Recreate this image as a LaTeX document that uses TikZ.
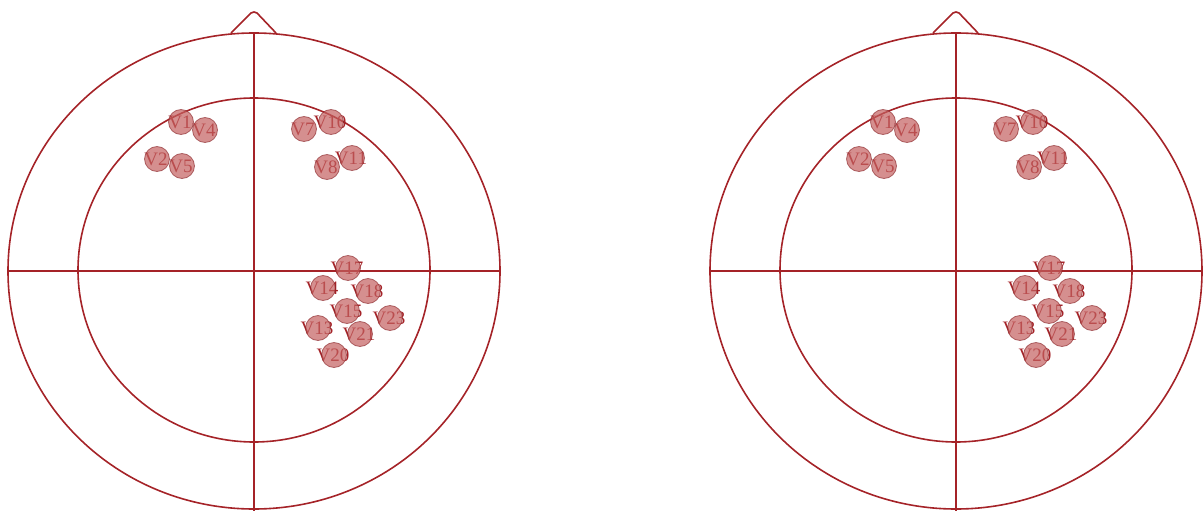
\documentclass[tikz,border=0pt]{standalone}
\usepackage{fontspec}
\setmainfont{Liberation Serif}
\definecolor{headred}{RGB}{165,35,40}
\definecolor{elecfill}{RGB}{195,95,95}
\tikzset{
  headline/.style={draw=headred, line width=1.6pt},
  elec/.style={circle, minimum size=25pt, inner sep=0pt, fill=elecfill, fill opacity=0.7, draw=headred!80!black, line width=0.8pt, draw opacity=0.6},
  elabel/.style={inner sep=0pt, text=headred, font=\fontsize{19}{19}\selectfont}
}
\begin{document}
\begin{tikzpicture}[x=1pt, y=-1pt]
    \useasboundingbox (0,0) rectangle (1203,511);
    \clip (0,0) rectangle (1203,511);
    \foreach \side/\dx in {L/0, R/702} {
      \begin{scope}[xshift=\dx pt]
        % Kopf und Achsen
        \draw[headline] (254,271) ellipse [x radius=246, y radius=238];
        \draw[headline] (254,270) ellipse [x radius=176, y radius=172];
        \draw[headline] (8,271) -- (500,271);
        \draw[headline] (254,33) -- (254,515);
        \draw[headline, line join=round] (231,33) -- (251,13) -- (254,12) -- (257,13) -- (276,33);
        % Elektroden
        \foreach \n/\x/\y in {1/181/122, 4/205/130, 2/157/159, 5/182/166,
                              7/304/129, 10/331/122, 8/327/167, 11/352/158,
                              17/348/268, 14/323/288, 18/368/291, 15/347/311,
                              23/390/318, 13/318/328, 21/360/334, 20/334/355} {
          \node[elabel] (\side-t\n) at (\x-1,\y) {V\n};
          \node[elec] (\side-V\n) at (\x,\y) {};
        }
      \end{scope}
    }
\end{tikzpicture}
\end{document}
